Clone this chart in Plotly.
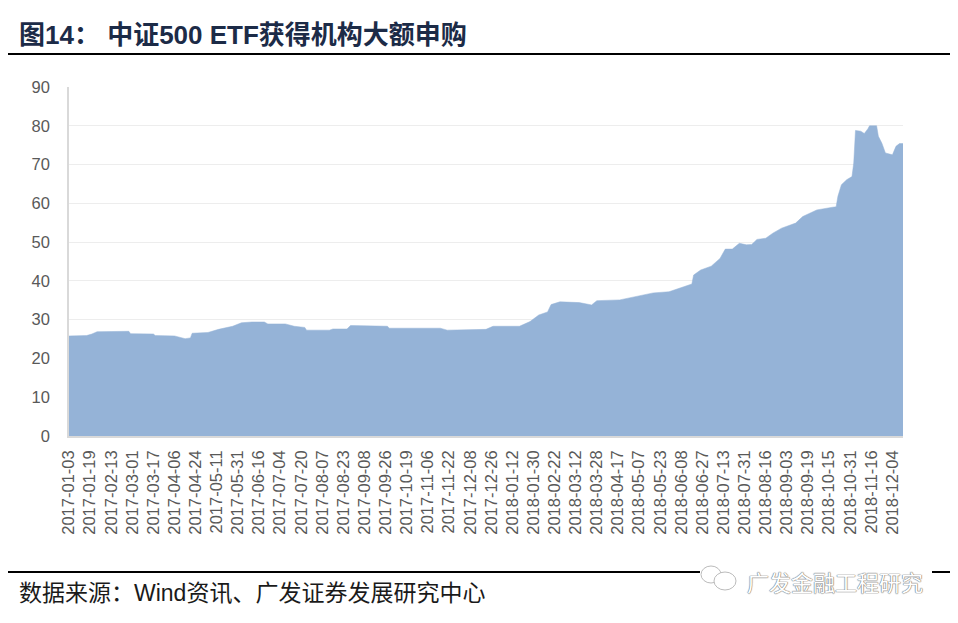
import plotly.graph_objects as go

# trading-day index (0 = 2017-01-03) and fund size
day_idx = [0, 10, 13, 16, 34, 35, 48, 49, 60, 66, 69, 70, 79, 85, 93, 98, 104, 111,
           113, 123, 128, 134, 135, 148, 150, 158, 160, 181, 182, 211, 215, 237, 241,
           256, 262, 267, 272, 274, 279, 290, 297, 300, 313, 323, 332, 341, 349, 354,
           355, 359, 365, 370, 373, 377, 381, 385, 388, 391, 396, 400, 405, 413, 417,
           421, 425, 434, 436, 437, 439, 442, 445, 446, 447, 450, 452, 454, 455, 459,
           460, 462, 464, 468, 470, 472, 474]
fund_size = [25.8, 25.9, 26.3, 26.9, 27.0, 26.4, 26.3, 25.9, 25.8, 25.1, 25.3, 26.5,
             26.7, 27.5, 28.3, 29.2, 29.4, 29.4, 28.9, 28.9, 28.3, 28.0, 27.3, 27.3,
             27.6, 27.6, 28.5, 28.3, 27.8, 27.8, 27.3, 27.5, 28.3, 28.3, 29.5, 31.2,
             32.0, 33.9, 34.6, 34.4, 33.8, 34.9, 35.1, 36.1, 36.9, 37.2, 38.5, 39.2,
             41.5, 42.8, 43.8, 45.8, 48.2, 48.2, 49.7, 49.3, 49.4, 50.7, 51.0, 52.3,
             53.6, 54.9, 56.6, 57.5, 58.3, 59.0, 59.1, 61.8, 64.8, 66.1, 66.9, 70.4,
             78.8, 78.6, 78.0, 79.2, 80.0, 80.0, 77.3, 75.5, 73.0, 72.5, 74.7, 75.4, 75.4]

tick_labels = [
    "2017-01-03", "2017-01-19", "2017-02-13", "2017-03-01", "2017-03-17", "2017-04-06",
    "2017-04-24", "2017-05-11", "2017-05-31", "2017-06-16", "2017-07-04", "2017-07-20",
    "2017-08-07", "2017-08-23", "2017-09-08", "2017-09-26", "2017-10-19", "2017-11-06",
    "2017-11-22", "2017-12-08", "2017-12-26", "2018-01-12", "2018-01-30", "2018-02-22",
    "2018-03-12", "2018-03-28", "2018-04-17", "2018-05-07", "2018-05-23", "2018-06-08",
    "2018-06-27", "2018-07-13", "2018-07-31", "2018-08-16", "2018-09-03", "2018-09-19",
    "2018-10-15", "2018-10-31", "2018-11-16", "2018-12-04",
]
tick_step = 12  # one label every 12 trading days

# the page body has an 8px margin, so the figure is drawn 8px in from the window edge
PAGE = 8
W, H = 958 - PAGE, 623 - PAGE
# plot area, in window pixels
L, R, T, B = 69, 903, 87, 436


def px_x(x):
    return (x - L) / (R - L)


def px_y(y):
    return (B - y) / (B - T)


fig = go.Figure()
fig.add_trace(go.Scatter(
    x=day_idx,
    y=fund_size,
    mode="lines",
    fill="tozeroy",
    fillcolor="#95B3D7",
    line=dict(color="#95B3D7", width=0.5),
    showlegend=False,
    hoverinfo="x+y",
))

tick_font = dict(family="Liberation Sans, Arial", size=16.5, color="#595959")

fig.update_layout(
    width=W,
    height=H,
    paper_bgcolor="white",
    plot_bgcolor="white",
    margin=dict(l=L - PAGE, r=958 - R, t=T - PAGE, b=623 - B),
    title=dict(
        text="<b>图14： 中证500 ETF获得机构大额申购</b>",
        font=dict(family="Liberation Sans, Noto Sans CJK SC", size=26, color="#1C2B47"),
        xref="container", yref="container",
        x=(19 - PAGE) / W, xanchor="left",
        y=1 - (35 - PAGE) / H, yanchor="middle",
    ),
    xaxis=dict(
        range=[0, 474],
        tickmode="array",
        tickvals=[i * tick_step for i in range(len(tick_labels))],
        ticktext=tick_labels,
        tickangle=-90,
        tickfont=tick_font,
        showgrid=False,
        showline=True,
        linecolor="#D9D9D9",
        linewidth=1.5,
        ticks="",
        zeroline=False,
        ticklabelstandoff=6,
    ),
    yaxis=dict(
        range=[0, 90],
        dtick=10,
        tickfont=tick_font,
        showgrid=True,
        gridcolor="#EDEDED",
        gridwidth=1,
        showline=True,
        linecolor="#D9D9D9",
        linewidth=1.5,
        zeroline=False,
        ticks="",
        ticklabelstandoff=14,
    ),
)

# rule under the title and above the source note
for y in (54, 572):
    fig.add_shape(type="line", xref="paper", yref="paper",
                  x0=px_x(PAGE), x1=px_x(950), y0=px_y(y), y1=px_y(y),
                  line=dict(color="black", width=2.2))

fig.add_annotation(
    text="数据来源：Wind资讯、广发证券发展研究中心",
    xref="paper", yref="paper",
    x=px_x(17), y=px_y(593), xanchor="left", yanchor="middle",
    showarrow=False,
    font=dict(family="Liberation Sans, Noto Sans CJK SC", size=23, color="#1A1A1A"),
)

# watermark: two bubbles + hollow-looking text
fig.add_shape(type="rect", xref="paper", yref="paper",
              x0=px_x(700), x1=px_x(932), y0=px_y(566), y1=px_y(596),
              fillcolor="white", line=dict(width=0))
fig.add_shape(type="circle", xref="paper", yref="paper",
              x0=px_x(701), x1=px_x(721), y0=px_y(566), y1=px_y(583),
              fillcolor="white", line=dict(color="#BBBBBB", width=1))
fig.add_shape(type="circle", xref="paper", yref="paper",
              x0=px_x(714), x1=px_x(736), y0=px_y(572), y1=px_y(590),
              fillcolor="white", line=dict(color="#BBBBBB", width=1))
fig.add_annotation(
    text="广发金融工程研究",
    xref="paper", yref="paper",
    x=px_x(745), y=px_y(581), xanchor="left", yanchor="middle",
    showarrow=False,
    font=dict(family="Noto Sans CJK SC", size=22, color="white",
              shadow="0 0 1px #777, 0 0 1px #777, 0 0 1px #777"),
)

fig.write_html("out.html")
